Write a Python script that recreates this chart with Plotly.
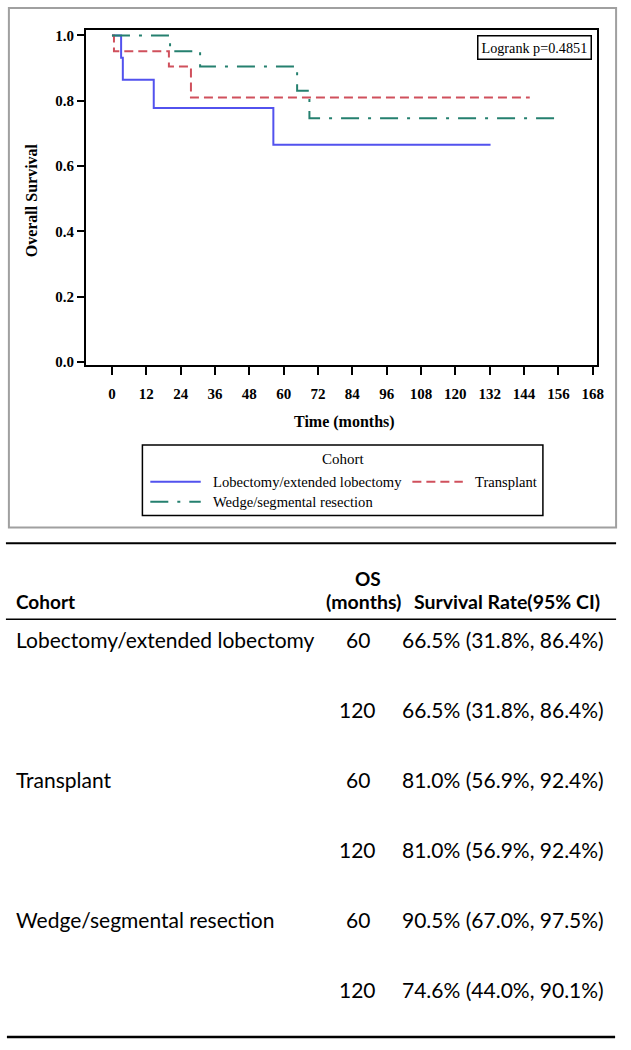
import plotly.graph_objects as go

W, H = 631, 1050

# ---------------- data ----------------
cohort_names = ["Lobectomy/extended lobectomy", "Transplant", "Wedge/segmental resection"]
lob_time = [0, 3.2, 3.8, 14.6, 56.4, 132.3]
lob_surv = [1.0, 0.932, 0.864, 0.778, 0.665, 0.665]
tx_time = [0, 0.7, 19.9, 27.6, 146.0]
tx_surv = [1.0, 0.952, 0.905, 0.810, 0.810]
wedge_time = [0, 20.3, 30.8, 64.7, 69.0, 154.8]
wedge_surv = [1.0, 0.952, 0.905, 0.831, 0.746, 0.746]
x_ticks = list(range(0, 169, 12))
y_ticks = [0.0, 0.2, 0.4, 0.6, 0.8, 1.0]
logrank_text = "Logrank p=0.4851"

table_header = ["Cohort", "OS", "(months)", "Survival Rate(95% CI)"]
table_cohort = ["Lobectomy/extended lobectomy", "", "Transplant", "", "Wedge/segmental resection", ""]
table_os = ["60", "120", "60", "120", "60", "120"]
table_rate = ["66.5% (31.8%, 86.4%)", "66.5% (31.8%, 86.4%)",
              "81.0% (56.9%, 92.4%)", "81.0% (56.9%, 92.4%)",
              "90.5% (67.0%, 97.5%)", "74.6% (44.0%, 90.1%)"]

# ---------------- styles ----------------
colors = ["#5252ee", "#d0505c", "#25806f"]
dashes = ["solid", "9px,5px", "18px,9px,3px,9px"]
SERIF = "Liberation Serif, Times New Roman, serif"
SANS = "Lato, Carlito, Calibri, sans-serif"


def X(px):
    return px / W


def Y(py):
    return 1 - py / H


def txt(text, x, y, font, xa="center", **kw):
    d = dict(text=text, xref="paper", yref="paper", x=X(x), y=Y(y), xanchor=xa, yanchor="middle",
             showarrow=False, font=font)
    d.update(kw)
    return d


fig = go.Figure()
series = [(lob_time, lob_surv), (tx_time, tx_surv), (wedge_time, wedge_surv)]
for (t, s), name, c, d in zip(series, cohort_names, colors, dashes):
    fig.add_trace(go.Scatter(x=t, y=s, mode="lines", name=name,
                             line=dict(color=c, width=2, dash=d, shape="hv"),
                             showlegend=False, hoverinfo="skip"))

shapes = []
annotations = []
serif_f = lambda s: dict(family=SERIF, size=s, color="black")
sans_f = lambda s: dict(family=SANS, size=s, color="black")

# outer gray frame of plot image
shapes.append(dict(type="rect", xref="paper", yref="paper", x0=X(9), x1=X(623), y0=Y(529), y1=Y(6),
                   line=dict(color="#a0a0a0", width=2)))

# legend box
shapes.append(dict(type="rect", xref="paper", yref="paper", x0=X(144), x1=X(549), y0=Y(517), y1=Y(446),
                   line=dict(color="black", width=1.5)))
annotations.append(txt("Cohort", 347, 460, serif_f(15)))
leg_pos = [(152, 483), (417, 483), (152, 503)]
for (lx, ly), name, c, d in zip(leg_pos, cohort_names, colors, dashes):
    shapes.append(dict(type="line", xref="paper", yref="paper", x0=X(lx), x1=X(lx + 51), y0=Y(ly), y1=Y(ly),
                       line=dict(color=c, width=2, dash=d)))
    annotations.append(txt(name, lx + 61, ly, serif_f(14.6), xa="left"))

# axis titles
annotations.append(txt("<b>Overall Survival</b>", 32, 200, serif_f(16), textangle=-90))
annotations.append(txt("<b>Time (months)</b>", 348, 423, serif_f(16)))

# logrank box
annotations.append(txt(logrank_text, 540, 46, serif_f(14.2), bordercolor="black", borderwidth=1.5, borderpad=3))

# ---------------- table ----------------
shapes.append(dict(type="line", xref="paper", yref="paper", x0=X(6), x1=X(623), y0=Y(545), y1=Y(545),
                   line=dict(color="black", width=2)))
shapes.append(dict(type="line", xref="paper", yref="paper", x0=X(6), x1=X(623), y0=Y(621.5), y1=Y(621.5),
                   line=dict(color="black", width=1.5)))
shapes.append(dict(type="line", xref="paper", yref="paper", x0=X(7), x1=X(622), y0=Y(1042), y1=Y(1042),
                   line=dict(color="black", width=2.5)))

annotations.append(txt("<b>" + table_header[0] + "</b>", 14, 604, sans_f(19), xa="left"))
annotations.append(txt("<b>" + table_header[1] + "</b>", 372, 580, sans_f(19)))
annotations.append(txt("<b>" + table_header[2] + "</b>", 368, 603.5, sans_f(19.5)))
annotations.append(txt("<b>" + table_header[3] + "</b>", 513, 603.5, sans_f(19.5)))

row_y = [641.7, 712.5, 783, 853.5, 923.5, 994]
for ry, c, o, r in zip(row_y, table_cohort, table_os, table_rate):
    if c:
        annotations.append(txt(c, 14, ry, sans_f(21), xa="left"))
    annotations.append(txt(o, 362, ry, sans_f(21)))
    annotations.append(txt(r, 509, ry, sans_f(21)))

tick_font = dict(family=SERIF, size=15, color="black", weight="bold")
fig.update_layout(
    width=W, height=H, autosize=False,
    margin=dict(l=0, r=0, t=0, b=0),
    paper_bgcolor="white", plot_bgcolor="white",
    shapes=shapes, annotations=annotations,
    xaxis=dict(domain=[X(87), X(604)], range=[-9.06, 169.6], tickvals=x_ticks,
               ticks="outside", ticklen=8, tickwidth=1.5, tickcolor="black",
               showline=True, mirror=True, linecolor="black", linewidth=2,
               showgrid=False, zeroline=False, ticklabelstandoff=6,
               tickfont=tick_font),
    yaxis=dict(domain=[Y(365.5), Y(28)], range=[-0.0097, 1.0173], tickvals=y_ticks, tickformat=".1f",
               ticks="outside", ticklen=7, tickwidth=1.5, tickcolor="black",
               showline=True, mirror=True, linecolor="black", linewidth=2,
               showgrid=False, zeroline=False,
               tickfont=tick_font),
)

post = (
    "var de=document.documentElement, b=document.body;"
    "de.style.margin='0';de.style.padding='0';de.style.overflow='hidden';"
    "b.style.margin='0';b.style.padding='0';b.style.overflow='hidden';"
    "b.style.width='631px';b.style.height='1050px';"
    "var g=document.getElementsByClassName('plotly-graph-div');"
    "for(var i=0;i<g.length;i++){g[i].style.display='block';}"
)
fig.write_html("out.html", config={"displayModeBar": False}, post_script=post)
